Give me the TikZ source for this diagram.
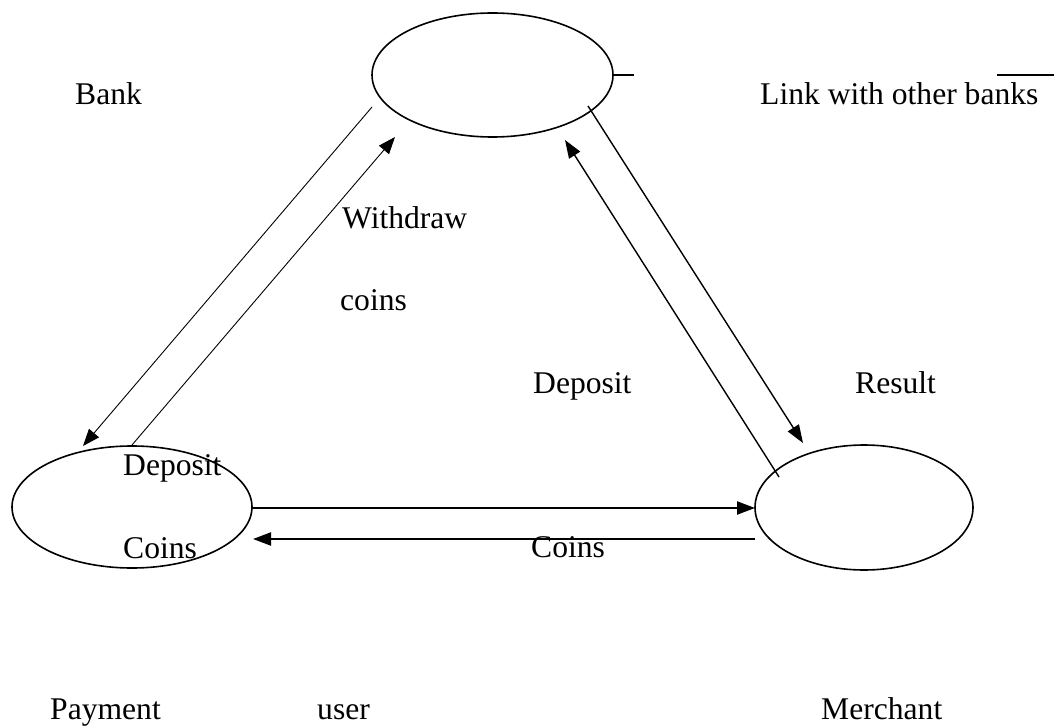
\documentclass[tikz,border=0pt]{standalone}
\usepackage{fontspec}
\setmainfont{Liberation Serif}
\usetikzlibrary{shapes.geometric,arrows.meta}
\tikzset{
  ent/.style={draw, ellipse, line width=1.6pt, inner sep=0pt},
  lbl/.style={anchor=base west, inner sep=0pt, font=\fontsize{31.6}{38}\selectfont},
  thinarrow/.style={line width=0.9pt, -{Triangle[length=17pt,width=13pt]}},
  medarrow/.style={line width=1.4pt, -{Triangle[length=18pt,width=13pt]}},
  thickarrow/.style={line width=2.2pt, -{Triangle[length=18pt,width=13pt]}},
}
\begin{document}
\begin{tikzpicture}[x=1pt,y=-1pt]
\useasboundingbox (0,0) rectangle (1054,727);
% entities
\node[ent, minimum width=241pt, minimum height=124pt] (bank) at (492.5,75) {};
\node[ent, minimum width=240pt, minimum height=122pt] (user) at (132,507) {};
\node[ent, minimum width=218pt, minimum height=125pt] (merchant) at (864,507.5) {};
% free ends
\coordinate (b1) at (372,107);
\coordinate (u1) at (83,446);
\coordinate (u2) at (132,445);
\coordinate (b2) at (395,137);
\coordinate (b3) at (588,106);
\coordinate (m1) at (803,443);
\coordinate (m2) at (779,477);
\coordinate (b4) at (565,140);
\coordinate (u3) at (252,508);
\coordinate (m3) at (755,508);
\coordinate (m4) at (755,539);
\coordinate (u4) at (253,539);
\coordinate (l1) at (613,75);
\coordinate (l2) at (634,75);
\coordinate (l3) at (997,75);
\coordinate (l4) at (1054,75);
% connectors
\draw[thinarrow] (b1) -- (u1);
\draw[thinarrow] (u2) -- (b2);
\draw[medarrow] (b3) -- (m1);
\draw[medarrow] (m2) -- (b4);
\draw[thickarrow] (u3) -- (m3);
\draw[thickarrow] (m4) -- (u4);
\draw[line width=1.6pt] (l1) -- (l2);
\draw[line width=1.6pt] (l3) -- (l4);
% labels
\node[lbl] (tbank) at (75,105) {Bank};
\node[lbl] (tlink) at (760,105) {Link with other banks};
\node[lbl] (twd) at (342,229) {Withdraw};
\node[lbl] (tcoins) at (340,310) {coins};
\node[lbl] (tdep) at (533,393) {Deposit};
\node[lbl] (tres) at (855,393) {Result};
\node[lbl] (tdep2) at (123,475) {Deposit};
\node[lbl] (tcoins2) at (123,558) {Coins};
\node[lbl] (tcoins3) at (531,557) {Coins};
\node[lbl] (tpay) at (50,719) {Payment};
\node[lbl] (tuser) at (317,719) {user};
\node[lbl] (tmer) at (821,719) {Merchant};
\end{tikzpicture}
\end{document}
